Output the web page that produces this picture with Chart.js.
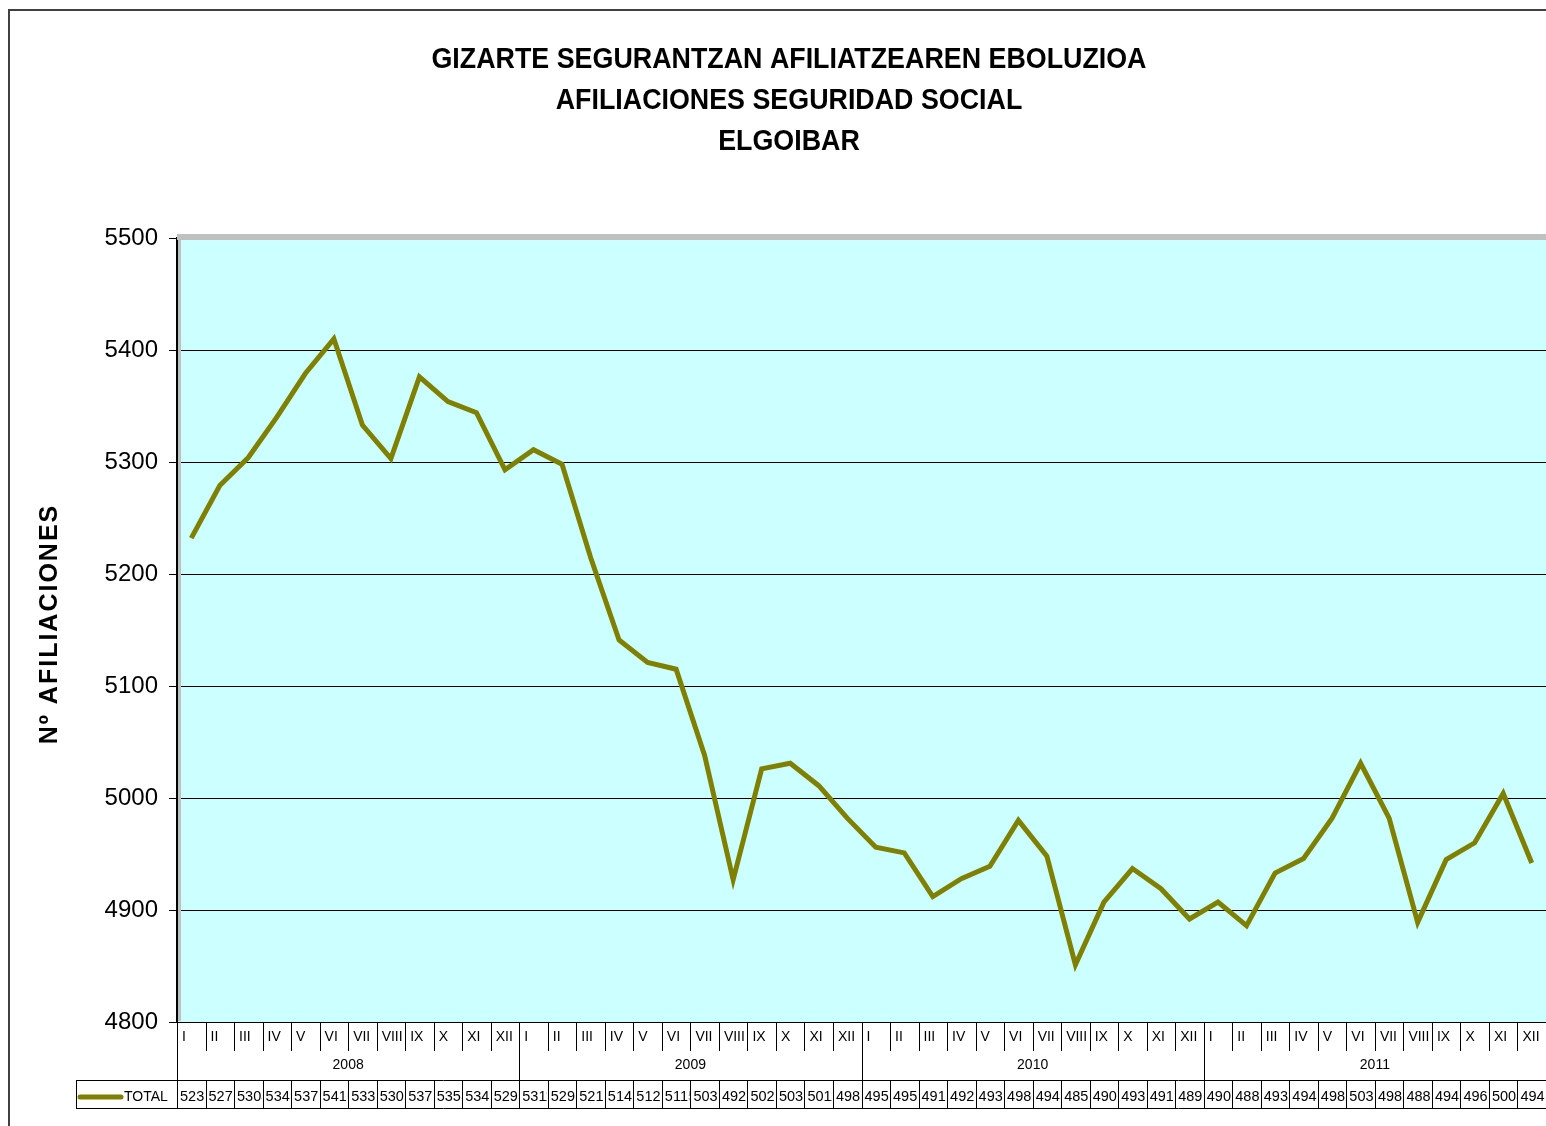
<!DOCTYPE html>
<html>
<head>
<meta charset="utf-8">
<script src="https://cdn.jsdelivr.net/npm/chart.js@4"></script>
<style>
  html, body { margin: 0; padding: 0; background: #fff; overflow: hidden; }
  canvas { display: block; }
</style>
</head>
<body>
<canvas id="chart" width="1546" height="1126"></canvas>
<script>
// chart data
const titleLines = [
  'GIZARTE SEGURANTZAN AFILIATZEAREN EBOLUZIOA',
  'AFILIACIONES SEGURIDAD SOCIAL',
  'ELGOIBAR'
];
const yAxisTitle = 'Nº AFILIACIONES';
const years = ['2008', '2009', '2010', '2011'];
const months = ['I', 'II', 'III', 'IV', 'V', 'VI', 'VII', 'VIII', 'IX', 'X', 'XI', 'XII'];
const seriesName = 'TOTAL';
const total = [
  5232, 5279, 5304, 5340, 5379, 5410, 5333, 5303, 5376, 5354, 5344, 5293,
  5311, 5298, 5215, 5141, 5121, 5115, 5038, 4927, 5026, 5031, 5011, 4982,
  4956, 4951, 4912, 4928, 4939, 4980, 4948, 4851, 4907, 4937, 4919, 4892,
  4907, 4886, 4933, 4946, 4982, 5031, 4982, 4889, 4945, 4960, 5004, 4942
];
const yMin = 4800;
const yMax = 5500;
const yStep = 100;

const lineColor = '#808000';
const FONT = '"Liberation Sans", Arial, sans-serif';

// one label per month, e.g. "III 2009"
const categories = [];
years.forEach(y => months.forEach(m => categories.push(m + ' ' + y)));

const decorations = {
  id: 'decorations',
  beforeDraw(chart) {
    const { ctx, chartArea: a } = chart;
    ctx.save();
    ctx.fillStyle = '#fff';
    ctx.fillRect(0, 0, chart.width, chart.height);
    ctx.fillStyle = '#ccffff';
    ctx.fillRect(a.left, a.top, a.right - a.left, a.bottom - a.top);
    ctx.restore();
  },
  beforeDatasetsDraw(chart) {
    // grey plot-area border (top and left), like the Excel original
    const { ctx, chartArea: a } = chart;
    ctx.save();
    ctx.fillStyle = '#c0c0c0';
    ctx.fillRect(a.left, a.top - 4, a.right - a.left, 6);
    ctx.fillRect(a.left + 1, a.top - 4, 3, a.bottom - a.top + 3);
    ctx.restore();
  },
  afterDraw(chart) {
    const { ctx, chartArea: a } = chart;
    const x = chart.scales.x;
    const cw = x.getPixelForValue(1) - x.getPixelForValue(0);
    const cellLeft = i => x.getPixelForValue(i) - cw / 2;

    ctx.save();

    // outer frame
    ctx.strokeStyle = '#404040';
    ctx.lineWidth = 2;
    ctx.beginPath();
    ctx.moveTo(9, chart.height);
    ctx.lineTo(9, 10);
    ctx.lineTo(chart.width, 10);
    ctx.stroke();

    // title, squeezed like a narrow bold face
    ctx.fillStyle = '#000';
    ctx.font = 'bold 29px ' + FONT;
    ctx.textBaseline = 'middle';
    ctx.textAlign = 'center';
    const squeeze = 715 / ctx.measureText(titleLines[0]).width;
    const titleY = [60, 101, 142];
    titleLines.forEach((t, i) => {
      ctx.save();
      ctx.translate(789, titleY[i]);
      ctx.scale(squeeze, 1);
      ctx.fillText(t, 0, 0);
      ctx.restore();
    });

    // y axis title
    ctx.save();
    ctx.translate(50, 624);
    ctx.rotate(-Math.PI / 2);
    ctx.font = 'bold 25px ' + FONT;
    ctx.letterSpacing = '2px';
    ctx.fillText(yAxisTitle, 0, 0);
    ctx.restore();

    // category axis: month row, year row, data table
    const yAxis = a.bottom;
    const yMonthEnd = 1051;
    const yTableTop = 1080;
    const yTableBot = 1108;

    ctx.strokeStyle = '#000';
    ctx.lineWidth = 1;
    ctx.beginPath();
    for (let i = 0; i <= categories.length; i++) {
      const px = Math.round(cellLeft(i)) + 0.5;
      if (i % months.length === 0) {
        ctx.moveTo(px, yAxis);
        ctx.lineTo(px, yTableBot);
      } else {
        ctx.moveTo(px, yAxis);
        ctx.lineTo(px, yMonthEnd);
        ctx.moveTo(px, yTableTop);
        ctx.lineTo(px, yTableBot);
      }
    }
    // table rows
    ctx.moveTo(76, yTableTop + 0.5);
    ctx.lineTo(chart.width, yTableTop + 0.5);
    ctx.moveTo(76, yTableBot + 0.5);
    ctx.lineTo(chart.width, yTableBot + 0.5);
    ctx.moveTo(76.5, yTableTop);
    ctx.lineTo(76.5, yTableBot);
    ctx.stroke();

    ctx.fillStyle = '#000';
    ctx.textBaseline = 'middle';
    ctx.textAlign = 'left';
    ctx.font = '14px ' + FONT;
    categories.forEach((c, i) => {
      ctx.fillText(months[i % months.length], cellLeft(i) + 5, 1037);
    });
    ctx.textAlign = 'center';
    years.forEach((y, k) => {
      const l = cellLeft(k * months.length);
      const r = cellLeft((k + 1) * months.length);
      ctx.fillText(y, (l + r) / 2, 1065);
    });

    // table values, clipped to their cells
    ctx.textAlign = 'left';
    ctx.font = '14.5px ' + FONT;
    total.forEach((v, i) => {
      const l = cellLeft(i);
      ctx.save();
      ctx.beginPath();
      ctx.rect(l + 1, yTableTop + 1, cw - 2, yTableBot - yTableTop - 1);
      ctx.clip();
      ctx.fillText(String(v), l + 3, 1097);
      ctx.restore();
    });

    // legend key
    ctx.strokeStyle = lineColor;
    ctx.lineWidth = 5;
    ctx.lineCap = 'round';
    ctx.beginPath();
    ctx.moveTo(80, 1097);
    ctx.lineTo(121, 1097);
    ctx.stroke();
    ctx.font = '14px ' + FONT;
    ctx.fillText(seriesName, 124, 1097);

    ctx.restore();
  }
};

new Chart(document.getElementById('chart'), {
  type: 'line',
  data: {
    labels: categories,
    datasets: [{
      label: seriesName,
      data: total,
      borderColor: lineColor,
      borderWidth: 5,
      pointRadius: 0,
      tension: 0,
      fill: false
    }]
  },
  options: {
    responsive: false,
    animation: false,
    layout: { padding: { left: 8, top: 238, right: 0, bottom: 104 } },
    plugins: {
      legend: { display: false },
      title: { display: false },
      tooltip: { enabled: false }
    },
    scales: {
      x: { display: false, offset: true },
      y: {
        min: yMin,
        max: yMax,
        afterFit(scale) { scale.width = 169; },
        ticks: {
          stepSize: yStep,
          color: '#000',
          padding: 11,
          font: { family: FONT, size: 24 },
          callback: v => String(v)
        },
        grid: { color: '#000', lineWidth: 1, tickLength: 8, tickColor: '#000' },
        border: { color: '#000', width: 2 }
      }
    }
  },
  plugins: [decorations]
});
</script>
</body>
</html>
